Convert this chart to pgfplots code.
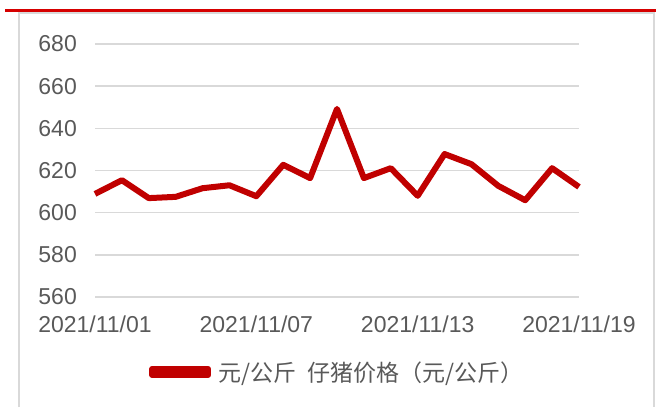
\documentclass[border=0pt]{standalone}
\usepackage{fontspec}
\setmainfont{Liberation Sans}
\newfontfamily\cjk{Noto Sans CJK SC}
\usepackage{pgfplots}
\pgfplotsset{compat=1.18}
\definecolor{linered}{HTML}{C00000}
\definecolor{topred}{HTML}{D60000}
\definecolor{gridgrey}{HTML}{D9D9D9}
\definecolor{txtgrey}{HTML}{595959}
\begin{document}
\begin{tikzpicture}
\useasboundingbox (0pt,0pt) rectangle (656pt,407pt);
\draw[gridgrey, line width=2pt] (19pt,0pt) -- (19pt,394pt) -- (654pt,394pt) -- (654pt,0pt);
\draw[topred, line width=3pt] (5pt,396.5pt) -- (656pt,396.5pt);
\begin{axis}[
  at={(95pt,110pt)}, anchor=south west, scale only axis,
  width=484pt, height=253pt,
  xmin=0, xmax=18, ymin=560, ymax=680,
  ytick={560,580,600,620,640,660,680},
  xtick={0,6,12,18},
  xticklabels={2021/11/01,2021/11/07,2021/11/13,2021/11/19},
  axis line style={draw=none},
  major tick length=0pt,
  ymajorgrids,
  grid style={gridgrey, line width=1.5pt},
  tick label style={font=\fontsize{23}{23}\selectfont, text=txtgrey, inner sep=0pt},
  yticklabel style={xshift=-18pt},
  xticklabel style={yshift=-19pt},
  /pgf/number format/assume math mode=true,
  clip=false,
  legend style={draw=none, fill=none,
    at={(axis description cs:0.1116,-0.2964)}, anchor=west,
    inner sep=0pt, font=\cjk\fontsize{23}{23}\selectfont, text=txtgrey,
    nodes={inner sep=0pt},
    /tikz/every odd column/.style={column sep=7pt}},
  legend image code/.code={
    \path (0pt,-3pt) rectangle (56pt,3pt);
    \draw[line width=6pt, line cap=round, linered] (3pt,0pt) -- (53pt,0pt);},
]
\addplot[linered, line width=6pt, line join=round] coordinates {
(0,608.9) (1,615.4) (2,606.9) (3,607.5) (4,611.6) (5,613.0) (6,607.8)
(7,622.7) (8,616.4) (9,649.2) (10,616.4) (11,621.1) (12,608.0) (13,627.8)
(14,623.0) (15,612.7) (16,605.9) (17,621.1) (18,612.2)};
\addlegendentry{元/公斤\hspace{0.5em}仔猪价格（元/公斤）}
\end{axis}
\end{tikzpicture}
\end{document}
